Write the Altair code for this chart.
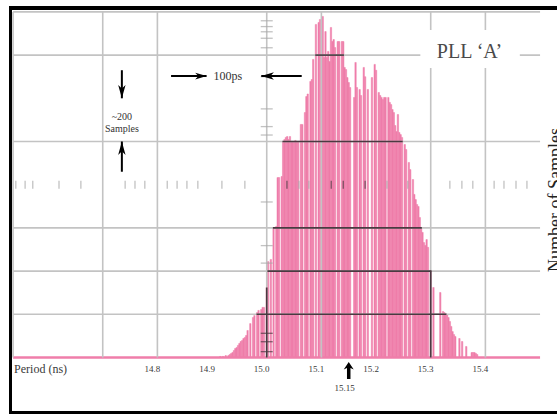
import altair as alt
import pandas as pd

# ---- period histogram (2.5 ps bins, bin centre = decade start + k * BIN_NS) ----
BIN_NS = 0.0025
decade_starts = [14.9, 15.0, 15.1, 15.2, 15.3]

counts_14_9 = [0, 0, 0, 0, 0, 0, 5, 0, 5, 0,
               9, 0, 9, 14, 19, 23, 32, 42, 46, 56,
               65, 74, 79, 88, 93, 102, 125, 0, 157, 0,
               185, 194, 0, 208, 218, 0, 222, 232, 232, 0]
counts_15_0 = [324, 444, 0, 454, 0, 600, 0, 607, 833, 833,
               0, 838, 1000, 1009, 1019, 1023, 1009, 1023, 1000, 1000,
               1000, 1005, 1000, 1000, 0, 1079, 1079, 0, 1134, 1208,
               1220, 0, 1278, 1287, 1380, 0, 1542, 0, 1551, 1565]
counts_15_1 = [0, 1579, 1389, 1509, 1389, 1417, 1370, 1528, 1463, 1472,
               1435, 0, 1463, 1463, 0, 1463, 1463, 1343, 1333, 1296,
               1273, 1250, 0, 0, 1204, 1366, 1250, 0, 1241, 1213,
               0, 1343, 1300, 0, 1241, 0, 0, 1296, 0, 1357]
counts_15_2 = [1330, 0, 1227, 1213, 1204, 1194, 1204, 1204, 0, 1204,
               1181, 1171, 1148, 1134, 1074, 1046, 1125, 1042, 1032, 1019,
               0, 986, 963, 0, 903, 870, 0, 824, 755, 731,
               708, 699, 648, 602, 579, 532, 519, 546, 510, 0]
counts_15_3 = [402, 0, 324, 0, 0, 0, 0, 301, 0, 213,
               208, 203, 199, 185, 167, 144, 120, 106, 97, 0,
               0, 88, 0, 74, 0, 0, 51, 0, 0, 0,
               23, 23, 23, 19, 14, 0, 0, 0, 0, 0]
all_counts = [counts_14_9, counts_15_0, counts_15_1, counts_15_2, counts_15_3]

# ---- screen graticule ----
grid_periods = [14.7, 14.8, 15.0, 15.1, 15.3, 15.4]
grid_samples = [200, 400, 600, 1000, 1400]
screen_left, screen_right, screen_top = 14.536, 15.5, 1600
row_level = 800
row_tick_periods = [14.541, 14.558, 14.572, 14.620, 14.660, 14.741, 14.759, 14.777,
                    14.818, 14.836, 14.854, 14.874, 14.918, 14.960, 15.037, 15.059,
                    15.077, 15.118, 15.140, 15.180, 15.220, 15.258, 15.335, 15.357,
                    15.377, 15.416, 15.434, 15.456, 15.476]
center_period = 15.0
center_tick_samples = [27, 73, 112, 437, 518, 720, 1030, 1069, 1151, 1300,
                       1434, 1478, 1508, 1532, 1559]
label_periods = [14.8, 14.9, 15.0, 15.1, 15.2, 15.3, 15.4]

# ---- annotations ----
marker_period = 15.15
ps_span = [14.89, 14.99]          # 100 ps
ps_row = 1303
samples_col = 14.735
samples_span = [1000, 1200]       # ~200 samples
pll_pos = (15.371, 1414)
label_row = -53                   # period labels sit just under the baseline
axis_title = "Period (ns)"
side_title = "Number of Samples"
side_pos = (15.539, 729)          # runs off the right edge of the screen

PINK = "#ef7eaa"
GRID = "#c3c3c3"
DARK = "#4b3941"
TICK = "#a8a8a8"
INK = "#3a3a3a"
SERIF = "Liberation Serif"

x_scale = alt.Scale(domain=[14.51207, 15.531], nice=False, zero=False)
y_scale = alt.Scale(domain=[-261.6, 1655.1], nice=False, zero=False)


def X(field):
    return alt.X(field, type="quantitative", scale=x_scale, axis=None)


def Y(field):
    return alt.Y(field, type="quantitative", scale=y_scale, axis=None)


# histogram table
rows = []
for d, arr in zip(decade_starts, all_counts):
    for k, c in enumerate(arr):
        centre = round(d + k * BIN_NS, 5)
        rows.append({"centre": centre, "start": centre - BIN_NS / 2,
                     "end": centre + BIN_NS / 2, "count": c, "base": 0})
bins = pd.DataFrame(rows)
bars_df = bins[bins["count"] > 0]


def count_at(period):
    diff = (bins["centre"] - period).abs()
    i = diff.idxmin()
    return int(bins.loc[i, "count"]) if diff[i] <= BIN_NS / 2 + 1e-9 else 0


# graticule lines turn dark where they cross the histogram
dark_h = []
for lv in grid_samples:
    sel = bins[bins["count"] >= lv]
    if len(sel):
        dark_h.append({"x0": sel["start"].min(), "x1": sel["end"].max(), "y": lv})
dark_h = pd.DataFrame(dark_h)
dark_v = pd.DataFrame([{"x": p, "y0": 0, "y1": count_at(p)}
                       for p in grid_periods if count_at(p) > 0])

row_df = pd.DataFrame({"x": row_tick_periods, "y": row_level})
row_df["over"] = [count_at(p) >= row_level for p in row_tick_periods]
ctr_df = pd.DataFrame({"x": center_period, "y": center_tick_samples})
ctr_df["over"] = [s <= count_at(center_period) for s in center_tick_samples]

bars = alt.Chart(bars_df).mark_rect(color=PINK, stroke=PINK, strokeWidth=0.5).encode(
    x=X("start"), x2="end", y=Y("base"), y2="count")

baseline = alt.Chart(pd.DataFrame({"x0": [screen_left], "x1": [screen_right], "y": [0]})
                     ).mark_rule(color=PINK, strokeWidth=2.5).encode(
    x=X("x0"), x2="x1", y=Y("y"))

vgrid = alt.Chart(pd.DataFrame({"x": [screen_left] + grid_periods, "y0": 0, "y1": screen_top})
                  ).mark_rule(color=GRID, strokeWidth=1.6).encode(x=X("x"), y=Y("y0"), y2="y1")
hgrid = alt.Chart(pd.DataFrame({"y": grid_samples + [screen_top], "x0": screen_left, "x1": screen_right})
                  ).mark_rule(color=GRID, strokeWidth=1.6).encode(x=X("x0"), x2="x1", y=Y("y"))

dark_hl = alt.Chart(dark_h).mark_rule(color=DARK, strokeWidth=1.6).encode(
    x=X("x0"), x2="x1", y=Y("y"))
dark_vl = alt.Chart(dark_v).mark_rule(color=DARK, strokeWidth=1.6).encode(
    x=X("x"), y=Y("y0"), y2="y1")

row_ticks = alt.Chart(row_df).mark_tick(orient="vertical", size=8, thickness=1.3).encode(
    x=X("x"), y=Y("y"),
    color=alt.Color("over:N", scale=alt.Scale(domain=[False, True], range=[TICK, DARK]), legend=None))
ctr_ticks = alt.Chart(ctr_df).mark_tick(orient="horizontal", size=12, thickness=1.3).encode(
    x=X("x"), y=Y("y"),
    color=alt.Color("over:N", scale=alt.Scale(domain=[False, True], range=[TICK, DARK]), legend=None))

# label box and PLL caption
box = alt.Chart(pd.DataFrame({"x0": [15.281], "x1": [15.463], "y0": [1340], "y1": [1516]})
                ).mark_rect(color="white").encode(x=X("x0"), x2="x1", y=Y("y0"), y2="y1")


def text_layer(df, size, color="#333333", align="center", dx=0, angle=0, baseline="middle"):
    return alt.Chart(df).mark_text(font=SERIF, fontSize=size, color=color, align=align,
                                   baseline=baseline, dx=dx, angle=angle).encode(
        x=X("x"), y=Y("y"), text="text:N")


# period axis labels and title
tick_df = pd.DataFrame({"x": label_periods, "y": label_row,
                        "text": [f"{v:.1f}" for v in label_periods]})
ticks_text = text_layer(tick_df, 9, color=INK, dx=-5)
axis_text = text_layer(pd.DataFrame({"x": [screen_left], "y": [label_row], "text": [axis_title]}),
                       12, color=INK, align="left", dx=1)
side_text = text_layer(pd.DataFrame({"x": [side_pos[0]], "y": [side_pos[1]], "text": [side_title]}),
                       18, color="#222222", angle=270, baseline="alphabetic")

pll = text_layer(pd.DataFrame({"x": [pll_pos[0]], "y": [pll_pos[1]], "text": ["PLL \u2018A\u2019"]}),
                 20, color="#4a4a4a")
ps_text = text_layer(pd.DataFrame({"x": [14.929], "y": [ps_row], "text": ["100ps"]}), 12)
smp_text = text_layer(pd.DataFrame({"x": [samples_col, samples_col], "y": [1114, 1057],
                                    "text": ["~200", "Samples"]}), 10)
mark_text = text_layer(pd.DataFrame({"x": [marker_period], "y": [-141], "text": ["15.15"]}), 9, dx=-4)

# arrows
h_shafts = alt.Chart(pd.DataFrame({"x0": [14.825, ps_span[1]], "x1": [ps_span[0], 15.064],
                                   "y": [ps_row, ps_row]})).mark_rule(color="black", strokeWidth=2).encode(
    x=X("x0"), x2="x1", y=Y("y"))
v_shafts = alt.Chart(pd.DataFrame({"x": [samples_col, samples_col], "y0": [1330, 860],
                                   "y1": [samples_span[1], samples_span[0]]})).mark_rule(
    color="black", strokeWidth=2).encode(x=X("x"), y=Y("y0"), y2="y1")

RIGHT = "M0,0 L-2,-0.6 L-1.45,0 L-2,0.6 Z"
LEFT = "M0,0 L2,-0.6 L1.45,0 L2,0.6 Z"
DOWN = "M0,0 L-0.55,-2 L0,-1.45 L0.55,-2 Z"
UP = "M0,0 L-0.55,2 L0,1.45 L0.55,2 Z"
BIG_UP = "M0,0 L-1,1.5 L-0.35,1.2 L-0.35,3.4 L0.35,3.4 L0.35,1.2 L1,1.5 Z"


def head(x, y, shape, size):
    return alt.Chart(pd.DataFrame({"x": [x], "y": [y]})).mark_point(
        shape=shape, filled=True, color="black", opacity=1, size=size, strokeWidth=0).encode(
        x=X("x"), y=Y("y"))


heads = [head(ps_span[0], ps_row, RIGHT, 130),
         head(ps_span[1], ps_row, LEFT, 160),
         head(samples_col, samples_span[1], DOWN, 180),
         head(samples_col, samples_span[0], UP, 180),
         head(marker_period, -21, BIG_UP, 100)]

# instrument frame
frame = [
    alt.Chart(pd.DataFrame({"a": [0]})).mark_rule(color="black", strokeWidth=4).encode(
        x=alt.value(9), x2=alt.value(557), y=alt.value(8)),
    alt.Chart(pd.DataFrame({"a": [0]})).mark_rule(color="black", strokeWidth=3).encode(
        x=alt.value(10.5), y=alt.value(6), y2=alt.value(414)),
    alt.Chart(pd.DataFrame({"a": [0]})).mark_rule(color="black", strokeWidth=3).encode(
        x=alt.value(9), x2=alt.value(557), y=alt.value(412.5)),
]

chart = alt.layer(
    bars, baseline, vgrid, hgrid, dark_hl, dark_vl, row_ticks, ctr_ticks,
    box, pll, ps_text, smp_text, mark_text, ticks_text, axis_text, side_text,
    h_shafts, v_shafts, *heads, *frame
).properties(
    width=557, height=414, padding=0,
    autosize=alt.AutoSizeParams(type="none"),
    background="white",
).configure_view(stroke=None)

chart.save("out.html", embed_options={"renderer": "svg", "actions": False})
